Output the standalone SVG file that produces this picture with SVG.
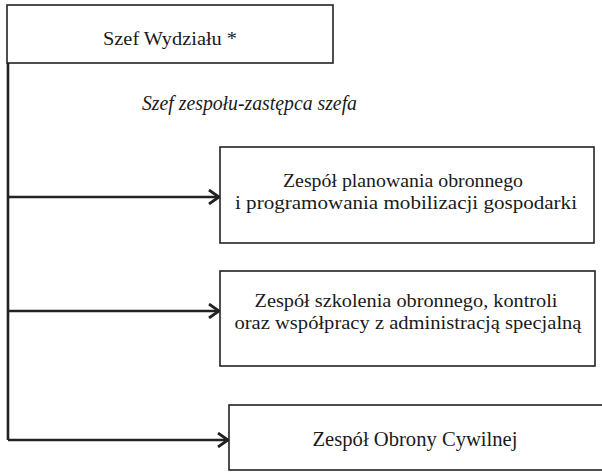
<svg xmlns="http://www.w3.org/2000/svg" width="602" height="472" viewBox="0 0 602 472">
<defs>
<style>
.box{fill:#fff;stroke:#222;stroke-width:1.6}
.t{font-family:'Liberation Serif','Times New Roman',serif;font-size:19px;fill:#1a1a1a;text-anchor:middle}
.it{font-family:'Liberation Serif','Times New Roman',serif;font-size:20px;font-style:italic;fill:#1a1a1a}
.c{fill:none;stroke:#222;stroke-width:2.6}
</style>
<marker id="arr" markerWidth="13" markerHeight="16" refX="12" refY="8" orient="auto" markerUnits="userSpaceOnUse">
<path d="M2,1 L12,8 L2,15" fill="none" stroke="#222" stroke-width="2.8"/>
</marker>
</defs>
<rect width="602" height="472" fill="#fff"/>
<g id="connectors">
<path class="c" d="M8,63 V440"/>
<path class="c" d="M8,197 H219" marker-end="url(#arr)"/>
<path class="c" d="M8,311 H219" marker-end="url(#arr)"/>
<path class="c" d="M8,440 H228" marker-end="url(#arr)"/>
</g>
<g id="szef-wydzialu">
<rect class="box" x="7" y="5" width="326" height="58"/>
<text class="t" x="170" y="45" textLength="134" lengthAdjust="spacingAndGlyphs">Szef Wydziału *</text>
</g>
<g id="label-szef-zespolu">
<text class="it" x="142" y="110" textLength="215" lengthAdjust="spacingAndGlyphs">Szef zespołu-zastępca szefa</text>
</g>
<g id="zespol-planowania">
<rect class="box" x="220" y="147" width="374" height="96"/>
<text class="t" x="403" y="187" textLength="240" lengthAdjust="spacingAndGlyphs">Zespół planowania obronnego</text>
<text class="t" x="406" y="209" textLength="342" lengthAdjust="spacingAndGlyphs">i programowania mobilizacji gospodarki</text>
</g>
<g id="zespol-szkolenia">
<rect class="box" x="220" y="271" width="375" height="95"/>
<text class="t" x="406" y="307" textLength="303" lengthAdjust="spacingAndGlyphs">Zespół szkolenia obronnego, kontroli</text>
<text class="t" x="408" y="329" textLength="347" lengthAdjust="spacingAndGlyphs">oraz współpracy z administracją specjalną</text>
</g>
<g id="zespol-obrony-cywilnej">
<rect class="box" x="229" y="405" width="380" height="65"/>
<text class="t" x="415" y="446" style="font-size:20px" textLength="205" lengthAdjust="spacingAndGlyphs">Zespół Obrony Cywilnej</text>
</g>
</svg>
